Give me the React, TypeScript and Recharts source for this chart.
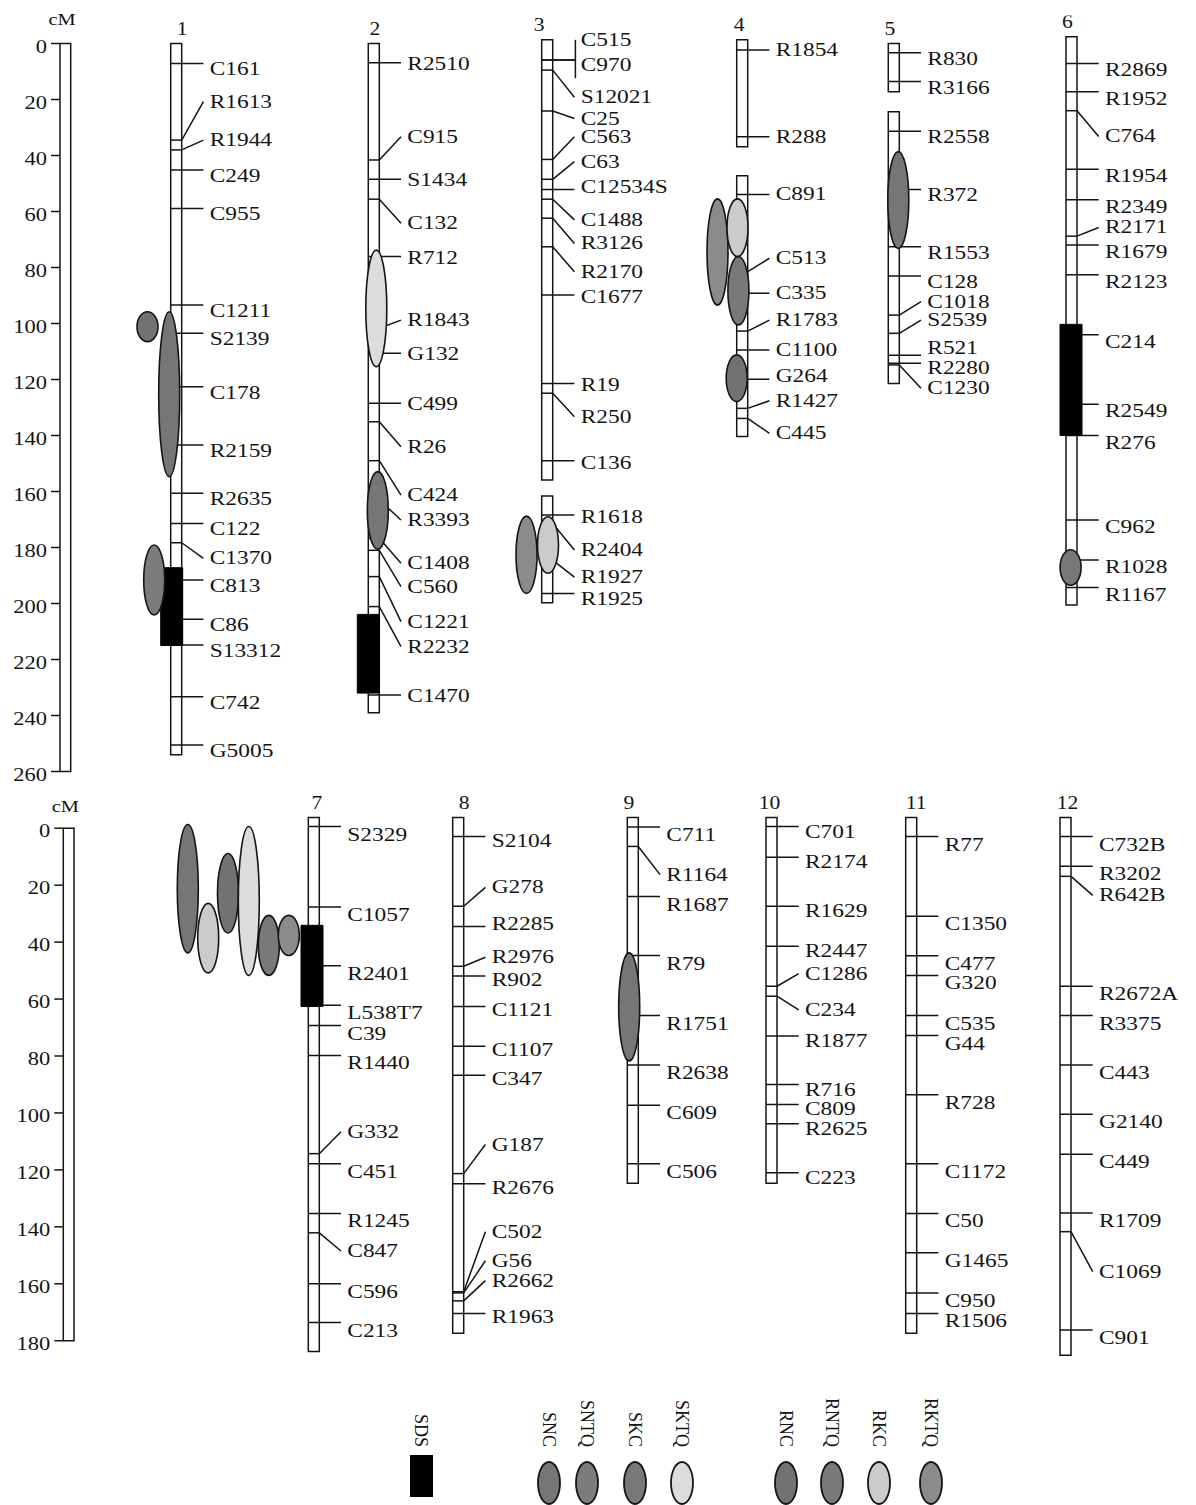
import React from 'react'
import {
  ScatterChart,
  Scatter,
  XAxis,
  YAxis,
  ReferenceArea,
  ReferenceLine,
  Legend,
} from 'recharts'

const FONT = '"Liberation Serif", "Times New Roman", serif'
const INK = '#141414'
const PAGE_W = 1196

// linkage groups in each row
const topGroups = ['1', '2', '3', '4', '5', '6']
const bottomGroups = ['7', '8', '9', '10', '11', '12']

// ruler ticks (cM)
const topTicks = [0, 20, 40, 60, 80, 100, 120, 140, 160, 180, 200, 220, 240, 260]
const bottomTicks = [0, 20, 40, 60, 80, 100, 120, 140, 160, 180]

// drawn stretches of each linkage group: [group, from cM, to cM]
const segments: [string, number, number][] = [
  ['1', 0, 254],
  ['2', 0, 239],
  ['3', -1.3, 155.9],
  ['3', 161.6, 199.7],
  ['4', -1.3, 36.9],
  ['4', 47.2, 140.4],
  ['5', 0, 17.2],
  ['5', 24.4, 121.4],
  ['6', -2.4, 200.5],
  ['7', -3.8, 183.8],
  ['8', -3.8, 177.4],
  ['9', -3.8, 124.7],
  ['10', -3.8, 124.7],
  ['11', -3.8, 177.4],
  ['12', -3.8, 185.1],
]

// markers: [name, cM]
const markers1: [string, number][] = [
  ['C161', 7.1], ['R1613', 34.5], ['R1944', 38], ['C249', 45.2], ['C955', 58.9],
  ['C1211', 93.4], ['S2139', 103.5], ['C178', 122.6], ['R2159', 143.4], ['R2635', 160.6],
  ['C122', 171.4], ['C1370', 178.3], ['C813', 191.6], ['C86', 205.6], ['S13312', 214.8],
  ['C742', 233.3], ['G5005', 250.5],
]
const markers2: [string, number][] = [
  ['R2510', 6.9], ['C915', 41.6], ['S1434', 48.5], ['C132', 55.6], ['R712', 76.1],
  ['R1843', 101.7], ['G132', 110.6], ['C499', 128.5], ['R26', 135.1], ['C424', 149],
  ['R3393', 163], ['C1408', 176.7], ['C560', 181], ['C1221', 190.4], ['R2232', 201.1],
  ['C1470', 232.7],
]
const markers3: [string, number][] = [
  ['C515', 5.9], ['C970', 5.9], ['S12021', 9.5], ['C25', 24.1], ['C563', 41.4],
  ['C63', 48.5], ['C12534S', 52.1], ['C1488', 55.6], ['R3126', 62.4], ['R2170', 72.6],
  ['C1677', 89.8], ['R19', 121.4], ['R250', 124.9], ['C136', 149], ['R1618', 168.4],
  ['R2404', 171.4], ['R1927', 184.5], ['R1925', 196.4],
]
const markers4: [string, number][] = [
  ['R1854', 2.3], ['R288', 33.3], ['C891', 53.9], ['C513', 81.5], ['C335', 89.2],
  ['R1783', 102.7], ['C1100', 109.5], ['G264', 119.9], ['R1427', 130.3], ['C445', 133.9],
]
const markers5: [string, number][] = [
  ['R830', 3.3], ['R3166', 13.6], ['R2558', 31.3], ['R372', 52.1], ['R1553', 72.6],
  ['C128', 83], ['C1018', 97], ['S2539', 103.5], ['R521', 111.3], ['R2280', 114.2],
  ['C1230', 114.8],
]
const markers6: [string, number][] = [
  ['R2869', 7.1], ['R1952', 17.2], ['C764', 24], ['R1954', 44.9], ['R2349', 55.8],
  ['R2171', 68.8], ['R1679', 72], ['R2123', 82.6], ['C214', 104], ['R2549', 128.8],
  ['R276', 140], ['C962', 170.2], ['R1028', 184.5], ['R1167', 194.3],
]
const markers7: [string, number][] = [
  ['S2329', -0.6], ['C1057', 27.7], ['R2401', 48.3], ['L538T7', 62.2], ['C39', 69.3],
  ['R1440', 79.8], ['G332', 114.3], ['C451', 117.8], ['R1245', 135.3], ['C847', 142.1],
  ['C596', 160], ['C213', 173.6],
]
const markers8: [string, number][] = [
  ['S2104', 2.9], ['G278', 27.4], ['R2285', 34.5], ['R2976', 48.5], ['R902', 51.9],
  ['C1121', 62.6], ['C1107', 76.6], ['C347', 86.8], ['G187', 121.3], ['R2676', 124.9],
  ['C502', 162.8], ['G56', 163.2], ['R2662', 166], ['R1963', 170.4],
]
const markers9: [string, number][] = [
  ['C711', -0.4], ['R1164', 6.4], ['R1687', 24], ['R79', 44.7], ['R1751', 65.8],
  ['R2638', 83.2], ['C609', 97.3], ['C506', 117.8],
]
const markers10: [string, number][] = [
  ['C701', -0.6], ['R2174', 10.2], ['R1629', 27.4], ['R2447', 41.5], ['C1286', 55.5],
  ['C234', 59], ['R1877', 73], ['R716', 90], ['C809', 97], ['R2625', 103.8], ['C223', 121],
]
const markers11: [string, number][] = [
  ['R77', 2.9], ['C1350', 30.9], ['C477', 44.8], ['G320', 51.7], ['C535', 65.8],
  ['G44', 72.8], ['R728', 93.6], ['C1172', 117.8], ['C50', 135.3], ['G1465', 149.1],
  ['C950', 163.2], ['R1506', 170.4],
]
const markers12: [string, number][] = [
  ['C732B', 2.9], ['R3202', 13.4], ['R642B', 16.9], ['R2672A', 55.5], ['R3375', 65.8],
  ['C443', 83.2], ['G2140', 100.5], ['C449', 114.5], ['R1709', 135.1], ['C1069', 141.7],
  ['C901', 176.2],
]

const markersByGroup: Record<string, [string, number][]> = {
  '1': markers1, '2': markers2, '3': markers3, '4': markers4, '5': markers5, '6': markers6,
  '7': markers7, '8': markers8, '9': markers9, '10': markers10, '11': markers11, '12': markers12,
}

// SDS intervals: [group, from cM, to cM]
const sdsBlocks: [string, number, number][] = [
  ['1', 187.2, 215],
  ['2', 203.9, 232],
  ['6', 100.3, 140],
  ['7', 34.1, 62.6],
]

// QTL support intervals: [group, trait, from cM, to cM]
const qtls: [string, string, number, number][] = [
  ['1', 'RNC', 95.8, 106.5],
  ['1', 'SNC', 95.8, 154.7],
  ['1', 'SNTQ', 179.1, 204.1],
  ['2', 'SKTQ', 73.8, 115.4],
  ['2', 'SNC', 152.9, 180.6],
  ['3', 'RKTQ', 168.8, 196.4],
  ['3', 'RKC', 169, 189.2],
  ['4', 'RKTQ', 55.5, 93.4],
  ['4', 'RKC', 55.5, 76.1],
  ['4', 'RNTQ', 76.1, 100.5],
  ['4', 'RNC', 111.2, 127.9],
  ['5', 'SNC', 38.6, 73.2],
  ['6', 'SKC', 180.8, 193.5],
  ['7', 'SNC', -1.3, 43.8],
  ['7', 'RKC', 26.4, 50.8],
  ['7', 'RNC', 8.9, 36.8],
  ['7', 'SKTQ', -0.6, 51.7],
  ['7', 'RNTQ', 30.6, 51.7],
  ['7', 'RKTQ', 30.6, 44.7],
  ['9', 'SNC', 43.8, 81.7],
]

const traits = ['SNC', 'SNTQ', 'SKC', 'SKTQ', 'RNC', 'RNTQ', 'RKC', 'RKTQ']
const traitFill: Record<string, string> = {
  SNC: '#767676',
  SNTQ: '#7c7c7c',
  SKC: '#787878',
  SKTQ: '#dcdcdc',
  RNC: '#727272',
  RNTQ: '#797979',
  RKC: '#cbcbcb',
  RKTQ: '#8b8b8b',
}

// where a marker name is moved away from its marker (label centre, cM)
const labelAt: Record<string, number> = {
  R1613: 20.8, R1944: 34.5, C1370: 183.9,
  C915: 33.3, C132: 64.2, R1843: 98.8, R26: 144, C424: 161.3, R3393: 170.2,
  C1408: 185.6, C560: 194, C1221: 206.5, R2232: 215.4,
  C515: -1.3, C970: 7.7, S12021: 19.2, C25: 26.8, C563: 33.3, C63: 42.2, C12534S: 51.1,
  C1488: 63, R3126: 71.4, R2170: 81.5, R250: 133.3, R2404: 180.9, R1927: 190.6, R1925: 198.3,
  C513: 76.7, R1783: 98.8, G264: 118.9, R1427: 127.6, C445: 139.2,
  C1018: 92.2, S2539: 98.8, R521: 108.9, R2280: 116, C1230: 123.1,
  C764: 33.2, R2171: 65.7,
  G332: 106.6, C847: 148.5,
  G278: 20.8, R2285: 33.6, R2976: 45.3, G187: 111.1, C502: 141.7, G56: 151.9, R2662: 158.9,
  R1164: 16.3,
  C1286: 51.1, C234: 63.8,
  R642B: 23.6, C1069: 155.7,
}
// co-located markers joined by a bracket
const brackets: [string, string, string][] = [['3', 'C515', 'C970']]

// ---- layout (page pixels) ----
const BAR_W = 11
const TICK = 21.7
const NAME_GAP = 28
const barLeft: Record<string, number> = {
  '1': 170.7, '2': 368.3, '3': 541.7, '4': 736.7, '5': 888.3, '6': 1066,
  '7': 308.3, '8': 452.7, '9': 627.3, '10': 766, '11': 905.7, '12': 1060,
}
const titleDx: Record<string, number> = {
  '1': 6, '2': 1, '3': -8, '4': -3, '5': -4, '6': -4,
  '7': 3, '8': 6, '9': -4, '10': -2, '11': 5, '12': 2,
}
// how far a straight marker name sits below its line
const nameDy: Record<string, number> = {
  '1': 6, '2': 1, '3': 2, '4': 0, '5': 6, '6': 7,
  '7': 8, '8': 4, '9': 8, '10': 5, '11': 8, '12': 8,
}
const sdsShift = [-10, -11, -6, -7.3]
const SDS_W = 22
const qtlDx = [-28.7, -7, -22, 2.5, 4, -20.7, 0.8, -24.7, -4.7, -3.8, -5.5, 4.5, -0.9, -126, -105.6, -85.8, -65, -45, -25, -3.6]
const QTL_W = 21
const legendKeys = ['SDS', ...traits]
const legendX = [421, 549, 587, 635, 682, 786, 832, 879, 931]

type Pt = { x: number; y: number; text: string; dy: number }

function NameShape(props: any) {
  const { cx, cy, payload } = props
  if (cx == null || cy == null) return null
  return (
    <text
      transform={`translate(${cx} ${cy + payload.dy}) scale(1.3 1)`}
      fontFamily={FONT}
      fontSize={18}
      fill={INK}
      dominantBaseline="central"
    >
      {payload.text}
    </text>
  )
}

function TitleShape(props: any) {
  const { cx, cy, payload } = props
  if (cx == null || cy == null) return null
  return (
    <text
      transform={`translate(${cx} ${cy + payload.dy}) scale(1.2 1)`}
      fontFamily={FONT}
      fontSize={18}
      fill={INK}
      textAnchor="middle"
      dominantBaseline="central"
    >
      {payload.text}
    </text>
  )
}

function QtlShape(props: any) {
  const { x, y, width, height, fill } = props
  return (
    <ellipse
      cx={x + width / 2}
      cy={y + height / 2}
      rx={width / 2}
      ry={height / 2}
      fill={fill}
      stroke={INK}
      strokeWidth={1.6}
    />
  )
}

function RulerTick(props: any) {
  const { x, y, payload } = props
  return (
    <text
      transform={`translate(${x - 2} ${y + 3}) scale(1.25 1)`}
      fontFamily={FONT}
      fontSize={18}
      fill={INK}
      textAnchor="end"
      dominantBaseline="central"
    >
      {payload.value}
    </text>
  )
}

function LegendBox() {
  return (
    <svg width={PAGE_W} height={125} style={{ display: 'block' }}>
      {legendKeys.map((k, i) => {
        const x = legendX[i]
        return (
          <g key={k}>
            <text
              transform={`translate(${x} 67) rotate(90)`}
              fontFamily={FONT}
              fontSize={18}
              fill={INK}
              textAnchor="end"
              dominantBaseline="central"
            >
              {k}
            </text>
            {k === 'SDS' ? (
              <rect x={x - 11} y={75} width={23} height={42} fill="#000" />
            ) : (
              <ellipse cx={x} cy={103} rx={11} ry={21} fill={traitFill[k]} stroke={INK} strokeWidth={1.8} />
            )}
          </g>
        )
      })}
    </svg>
  )
}

interface PanelProps {
  groups: string[]
  height: number
  marginTop: number
  marginBottom: number
  domain: [number, number]
  ticks: number[]
  rulerLeft: number
  cmY: number
  legend?: boolean
}

function Panel(p: PanelProps) {
  const bars: React.ReactNode[] = []
  const lines: React.ReactNode[] = []
  const blocks: React.ReactNode[] = []
  const ovals: React.ReactNode[] = []
  const names: Pt[] = []
  const titles: Pt[] = []
  const line = { stroke: INK, strokeWidth: 1.5, ifOverflow: 'visible' as const, zIndex: 102 }
  const barStyle = {
    fill: '#fff',
    fillOpacity: 1,
    stroke: INK,
    strokeWidth: 1.5,
    ifOverflow: 'visible' as const,
    zIndex: 101,
  }

  bars.push(
    <ReferenceArea
      key="ruler"
      x1={p.rulerLeft}
      x2={p.rulerLeft + 10.7}
      y1={0}
      y2={p.ticks[p.ticks.length - 1]}
      {...barStyle}
    />
  )

  p.groups.forEach((g) => {
    const left = barLeft[g]
    const right = left + BAR_W
    const segs = segments.filter((s) => s[0] === g)
    segs.forEach(([, a, b], i) =>
      bars.push(<ReferenceArea key={`bar-${g}-${i}`} x1={left} x2={right} y1={a} y2={b} {...barStyle} />)
    )
    titles.push({ x: left + BAR_W / 2 + titleDx[g], y: segs[0][1], text: g, dy: -15 })

    const inBracket = new Set<string>()
    brackets
      .filter((b) => b[0] === g)
      .forEach(([, first, last]) => {
        inBracket.add(first)
        inBracket.add(last)
        lines.push(
          <ReferenceLine
            key={`br-${first}`}
            segment={[
              { x: right + TICK + 1, y: labelAt[first] },
              { x: right + TICK + 1, y: labelAt[last] + 4.7 },
            ]}
            {...line}
          />
        )
      })

    markersByGroup[g].forEach(([name, cm]) => {
      const at = labelAt[name]
      const slanted = at !== undefined && Math.abs(at - cm) > 2.5 && !inBracket.has(name)
      const end = slanted ? right : right + TICK + (inBracket.has(name) ? 1 : 0)
      lines.push(
        <ReferenceLine key={`h-${name}`} segment={[{ x: left, y: cm }, { x: end, y: cm }]} {...line} />
      )
      if (slanted) {
        lines.push(
          <ReferenceLine
            key={`s-${name}`}
            segment={[{ x: right, y: cm }, { x: right + TICK, y: at }]}
            {...line}
          />
        )
      }
      names.push({ x: right + NAME_GAP, y: at ?? cm, text: name, dy: at === undefined ? nameDy[g] : 0 })
    })
  })

  sdsBlocks.forEach(([g, a, b], i) => {
    if (!p.groups.includes(g)) return
    const x1 = barLeft[g] + sdsShift[i]
    blocks.push(
      <ReferenceArea
        key={`sds-${g}`}
        x1={x1}
        x2={x1 + SDS_W}
        y1={a}
        y2={b}
        fill="#000"
        fillOpacity={1}
        stroke="#000"
        ifOverflow="visible"
        zIndex={103}
      />
    )
  })

  qtls.forEach(([g, trait, a, b], i) => {
    if (!p.groups.includes(g)) return
    const c = barLeft[g] + BAR_W / 2 + qtlDx[i]
    ovals.push(
      <ReferenceArea
        key={`qtl-${i}`}
        x1={c - QTL_W / 2}
        x2={c + QTL_W / 2}
        y1={a}
        y2={b}
        fill={traitFill[trait]}
        fillOpacity={1}
        ifOverflow="visible"
        zIndex={104}
        shape={QtlShape}
      />
    )
  })

  return (
    <ScatterChart
      width={PAGE_W}
      height={p.height}
      margin={{ top: p.marginTop, right: 0, bottom: p.marginBottom, left: 0 }}
    >
      <XAxis type="number" dataKey="x" domain={[p.rulerLeft, PAGE_W]} allowDataOverflow hide />
      <YAxis
        type="number"
        dataKey="y"
        domain={p.domain}
        allowDataOverflow
        reversed
        width={p.rulerLeft}
        ticks={p.ticks}
        interval={0}
        axisLine={false}
        tickSize={9}
        tickLine={{ stroke: INK, strokeWidth: 1.5 }}
        tick={<RulerTick />}
        label={() => (
          <text
            transform={`translate(${p.rulerLeft + 2} ${p.cmY}) scale(1.2 1)`}
            fontFamily={FONT}
            fontSize={17}
            fill={INK}
            textAnchor="middle"
            dominantBaseline="central"
          >
            cM
          </text>
        )}
      />
      {bars}
      {lines}
      {blocks}
      {ovals}
      <Scatter data={names} shape={NameShape} isAnimationActive={false} />
      <Scatter data={titles} shape={TitleShape} isAnimationActive={false} />
      {p.legend && (
        <Legend
          verticalAlign="bottom"
          align="left"
          content={() => <LegendBox />}
          wrapperStyle={{ left: 0, bottom: 0, width: PAGE_W, height: 125, lineHeight: 0 }}
        />
      )}
    </ScatterChart>
  )
}

export default function App() {
  return (
    <div style={{ position: 'absolute', left: 0, top: 0, width: PAGE_W, height: 1505, background: '#fff' }}>
      <div style={{ position: 'absolute', left: 0, top: 0 }}>
        <Panel
          groups={topGroups}
          height={790}
          marginTop={15.5}
          marginBottom={4.5}
          domain={[-10, 265]}
          ticks={topTicks}
          rulerLeft={60}
          cmY={19}
        />
      </div>
      <div style={{ position: 'absolute', left: 0, top: 790 }}>
        <Panel
          groups={bottomGroups}
          height={715}
          marginTop={4.04}
          marginBottom={5.1}
          domain={[-12, 192]}
          ticks={bottomTicks}
          rulerLeft={63.3}
          cmY={16}
          legend
        />
      </div>
    </div>
  )
}
